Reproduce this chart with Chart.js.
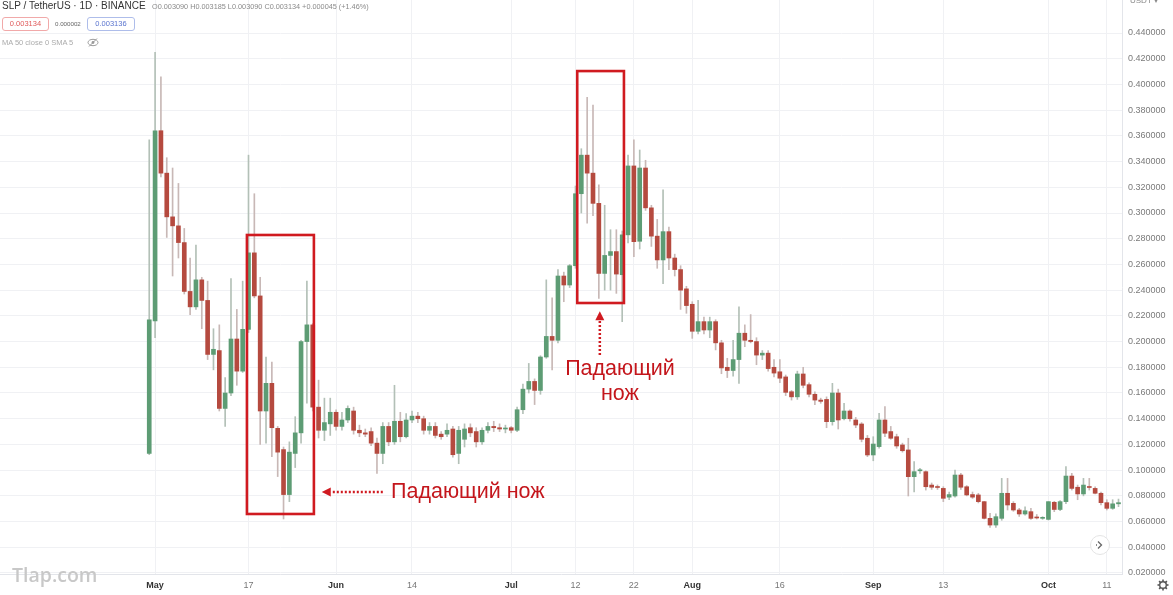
<!DOCTYPE html>
<html>
<head>
<meta charset="utf-8">
<script src="https://cdn.jsdelivr.net/npm/chart.js@4.4.1/dist/chart.umd.min.js"></script>
<style>
  body { margin: 0; background: #fff; overflow: hidden; }
  #wrap { position: relative; width: 1173px; height: 595px; font-family: "Liberation Sans", Arial, sans-serif; }
  #chart { position: absolute; left: 0; top: 0; }
  .abs { position: absolute; white-space: nowrap; }
  .title { left: 2px; top: 0px; font-size: 10px; color: #333; }
  .ohlc { left: 152px; top: 1.5px; font-size: 7.3px; color: #8a8a8a; }
  .pill { top: 17px; height: 12px; line-height: 12px; font-size: 7.5px; border-radius: 3px; text-align: center; }
  .pill.red { left: 2px; width: 45px; border: 1px solid #f1a9a9; color: #e05a5a; }
  .pill.blue { left: 87px; width: 46px; border: 1px solid #aebdea; color: #5a74cf; }
  .diff { left: 55px; top: 19.5px; font-size: 6.2px; color: #666; }
  .ma { left: 2px; top: 38px; font-size: 7.5px; color: #ababab; }
  .usdt { left: 1130px; top: -4px; font-size: 8px; color: #888; }
  .mark { left: 12px; top: 561px; font-family: "Open Sans", sans-serif; font-weight: 600; font-size: 19.5px; color: #c8c8c8; }
  .knife { font-size: 21.5px; color: #c4161c; line-height: 25px; }
  .k1 { left: 391px; top: 479px; }
  .k2 { left: 560px; top: 356px; width: 120px; text-align: center; white-space: normal; }
</style>
</head>
<body>
<div id="wrap">
  <canvas id="chart" width="1173" height="595"></canvas>

  <div class="abs title">SLP / TetherUS · 1D · BINANCE</div>
  <div class="abs ohlc">O0.003090 H0.003185 L0.003090 C0.003134 +0.000045 (+1.46%)</div>
  <div class="abs pill red">0.003134</div>
  <div class="abs diff">0.000002</div>
  <div class="abs pill blue">0.003136</div>
  <div class="abs ma">MA 50 close 0 SMA 5</div>
  <svg class="abs" style="left:87px;top:38px" width="12" height="9" viewBox="0 0 12 9">
    <ellipse cx="6" cy="4.5" rx="5" ry="3.2" fill="none" stroke="#9a9a9a" stroke-width="1"/>
    <circle cx="6" cy="4.5" r="1.4" fill="#9a9a9a"/>
    <line x1="2" y1="8.5" x2="10" y2="0.5" stroke="#9a9a9a" stroke-width="1"/>
  </svg>
  <div class="abs usdt">USDT ▾</div>

  <div class="abs knife k1">Падающий нож</div>
  <div class="abs knife k2">Падающий нож</div>

  <div class="abs mark">Tlap.com</div>

  <svg class="abs" style="left:1089px;top:534px" width="22" height="22" viewBox="0 0 22 22">
    <circle cx="11" cy="11" r="9.5" fill="#fff" stroke="#e4e4e4"/>
    <polyline points="9,7.5 12.5,11 9,14.5" fill="none" stroke="#666" stroke-width="1.3"/>
    <line x1="7" y1="11" x2="8" y2="11" stroke="#666" stroke-width="1.3"/>
  </svg>
  <svg class="abs" style="left:1157px;top:579px" width="12" height="12" viewBox="0 0 12 12">
    <circle cx="6" cy="6" r="3.3" fill="none" stroke="#555" stroke-width="1.4"/>
    <g stroke="#555" stroke-width="1.6">
      <line x1="6" y1="0.5" x2="6" y2="2.4"/><line x1="6" y1="9.6" x2="6" y2="11.5"/>
      <line x1="0.5" y1="6" x2="2.4" y2="6"/><line x1="9.6" y1="6" x2="11.5" y2="6"/>
      <line x1="2.1" y1="2.1" x2="3.4" y2="3.4"/><line x1="8.6" y1="8.6" x2="9.9" y2="9.9"/>
      <line x1="2.1" y1="9.9" x2="3.4" y2="8.6"/><line x1="8.6" y1="3.4" x2="9.9" y2="2.1"/>
    </g>
  </svg>
</div>

<script>
// SLP/USDT daily candles, 30 Apr 2021 .. 13 Oct 2021 (index 0 = 30 Apr)
const firstDay = Date.UTC(2021, 3, 30);

const opens = [
  .113,.216,.364,.331,.297,.290,.277,.239,.227,.248,
  .232,.190,.193,.148,.160,.202,.177,.2095,.269,.2355,
  .146,.1675,.1325,.116,.081,.113,.129,.200,.213,.149,
  .131,.136,.145,.134,.139,.146,.131,.129,.130,.121,
  .113,.134,.122,.138,.126,.139,.142,.140,.131,.134,
  .128,.128,.132,.113,.124,.133,.130,.122,.131,.134,
  .133,.132,.133,.131,.147,.163,.169,.162,.188,.204,
  .201,.251,.244,.259,.315,.345,.331,.3075,.253,.267,
  .270,.252,.283,.3366,.278,.335,.304,.282,.2635,.2855,
  .265,.256,.241,.229,.208,.2155,.209,.2155,.199,.180,
  .1775,.186,.2065,.201,.200,.1895,.191,.180,.1765,.1725,
  .161,.157,.1748,.1665,.159,.1545,.155,.1377,.160,.140,
  .146,.139,.1359,.1248,.1118,.1183,.139,.130,.126,.1196,
  .1157,.0949,.0995,.0988,.0884,.0871,.0858,.079,.0799,.0962,
  .0871,.081,.0807,.0755,.0625,.0573,.0625,.082,.0742,.069,
  .0659,.0677,.063,.0625,.0617,.075,.0694,.0755,.0954,.0867,
  .0815,.0871,.0858,.082,.0747,.0703,.0738
];
const highs = [
  .357,.425,.406,.343,.335,.323,.288,.265,.275,.250,
  .247,.210,.213,.172,.249,.225,.247,.345,.315,.250,
  .188,.184,.134,.118,.122,.1416,.201,.247,.214,.170,
  .156,.156,.147,.145,.150,.149,.135,.132,.133,.125,
  .137,.137,.166,.145,.144,.146,.145,.142,.137,.137,
  .130,.136,.134,.134,.136,.136,.133,.133,.137,.138,
  .136,.135,.134,.149,.167,.183,.171,.189,.248,.234,
  .256,.254,.260,.321,.350,.390,.384,.322,.306,.287,
  .287,.286,.345,.357,.349,.341,.306,.295,.318,.289,
  .268,.259,.243,.231,.232,.219,.219,.217,.201,.187,
  .201,.227,.213,.221,.203,.193,.193,.186,.186,.174,
  .162,.177,.180,.168,.161,.156,.157,.1675,.163,.152,
  .147,.141,.137,.127,.126,.1442,.1494,.134,.128,.121,
  .1248,.1066,.1015,.0995,.090,.0885,.0871,.083,.1001,.0975,
  .088,.083,.082,.0757,.0665,.066,.0936,.0936,.0755,.0703,
  .0714,.0703,.0655,.0638,.0755,.0757,.0764,.1027,.0975,.0884,
  .0936,.0936,.0871,.083,.077,.077,.0775
];
const lows = [
  .112,.203,.328,.281,.251,.265,.237,.221,.225,.210,
  .186,.178,.146,.134,.158,.166,.176,.207,.234,.120,
  .121,.1105,.095,.062,.0755,.102,.121,.152,.146,.125,
  .123,.127,.131,.131,.137,.128,.126,.126,.119,.0975,
  .105,.119,.120,.122,.125,.137,.137,.128,.128,.125,
  .124,.126,.110,.105,.118,.126,.118,.120,.129,.130,
  .130,.129,.129,.130,.144,.160,.151,.159,.187,.178,
  .199,.231,.242,.257,.300,.292,.298,.2335,.240,.240,
  .2375,.2155,.2767,.266,.272,.302,.274,.257,.245,.256,
  .251,.225,.222,.2025,.206,.206,.203,.1935,.175,.172,
  .173,.1675,.196,.199,.182,.186,.177,.1725,.168,.158,
  .1545,.155,.164,.157,.151,.152,.133,.135,.132,.139,
  .138,.133,.122,.1105,.1073,.117,.126,.124,.117,.114,
  .0799,.083,.0975,.0845,.085,.085,.0755,.077,.079,.085,
  .080,.078,.0745,.062,.0555,.0555,.061,.069,.068,.064,
  .065,.0617,.062,.0617,.0612,.0677,.0684,.074,.0845,.077,
  .080,.0845,.0815,.073,.069,.0695,.0716
];
const closes = [
  .217,.364,.331,.297,.290,.277,.239,.227,.248,.232,
  .190,.194,.148,.160,.202,.177,.2095,.269,.2355,.146,
  .1675,.133,.114,.081,.114,.129,.200,.213,.149,.131,
  .137,.145,.134,.139,.148,.131,.129,.128,.121,.113,
  .134,.122,.138,.126,.139,.142,.140,.131,.134,.127,
  .126,.131,.112,.131,.132,.129,.122,.131,.134,.133,
  .132,.1325,.131,.147,.163,.169,.162,.188,.204,.201,
  .251,.244,.259,.315,.345,.331,.3075,.253,.267,.270,
  .2525,.283,.3366,.2777,.335,.304,.282,.2635,.2855,.265,
  .256,.240,.228,.208,.2155,.209,.2155,.199,.1795,.1775,
  .186,.2065,.201,.200,.1895,.191,.179,.1755,.1715,.1605,
  .157,.1748,.166,.159,.1545,.1535,.1377,.160,.139,.146,
  .140,.1351,.124,.1118,.1203,.139,.1287,.1248,.1188,.1151,
  .0949,.0988,.0999,.0871,.0867,.0865,.0781,.081,.0962,.0867,
  .0807,.079,.0755,.0625,.0573,.0638,.082,.0729,.069,.0659,
  .0684,.0625,.0628,.0627,.0755,.0694,.0755,.0954,.0858,.0815,
  .0884,.0865,.082,.0747,.0703,.0738,.0747
];

// x-axis ticks (day index) and their labels
const xTickDays = [1, 17, 32, 45, 62, 73, 83, 93, 108, 124, 136, 154, 164];
const xTickLabels = ['May', '17', 'Jun', '14', 'Jul', '12', '22', 'Aug', '16', 'Sep', '13', 'Oct', '11'];
const monthLabels = ['May', 'Jun', 'Jul', 'Aug', 'Sep', 'Oct'];

// price axis ticks
const yTickValues = [0.02, 0.04, 0.06, 0.08, 0.10, 0.12, 0.14, 0.16, 0.18, 0.20, 0.22,
                     0.24, 0.26, 0.28, 0.30, 0.32, 0.34, 0.36, 0.38, 0.40, 0.42, 0.44];

const UP = '#5d9c74';
const DOWN = '#b54a3f';
const UP_WICK = '#b3c0b7';
const DOWN_WICK = '#c8b8b6';
const KNIFE_RED = '#d01a20';

// highlighted "falling knife" zones, in data units
const knifeBoxes = [
  { from: 16.73, to: 28.2, low: 0.0659, high: 0.2829 },
  { from: 73.3, to: 81.3, low: 0.2300, high: 0.4104 }
];

const isUp = i => closes[i] >= opens[i];
const dayLabel = i => new Date(firstDay + i * 86400000).toISOString().slice(0, 10);

// dotted arrows pointing at the zones
function dottedArrow(ctx, x1, y1, x2, y2) {
  const ang = Math.atan2(y2 - y1, x2 - x1);
  const head = 9;
  ctx.save();
  ctx.strokeStyle = KNIFE_RED;
  ctx.fillStyle = KNIFE_RED;
  ctx.lineWidth = 2.5;
  ctx.setLineDash([2, 2]);
  ctx.beginPath();
  ctx.moveTo(x1, y1);
  ctx.lineTo(x2 - Math.cos(ang) * head, y2 - Math.sin(ang) * head);
  ctx.stroke();
  ctx.setLineDash([]);
  ctx.beginPath();
  ctx.moveTo(x2, y2);
  ctx.lineTo(x2 - Math.cos(ang) * head + Math.sin(ang) * 4.5, y2 - Math.sin(ang) * head - Math.cos(ang) * 4.5);
  ctx.lineTo(x2 - Math.cos(ang) * head - Math.sin(ang) * 4.5, y2 - Math.sin(ang) * head + Math.cos(ang) * 4.5);
  ctx.closePath();
  ctx.fill();
  ctx.restore();
}

const knifePlugin = {
  id: 'knives',
  afterDatasetsDraw(chart) {
    const { ctx, scales: { x, y } } = chart;
    ctx.save();
    ctx.strokeStyle = KNIFE_RED;
    ctx.lineWidth = 2.6;
    knifeBoxes.forEach(b => {
      const l = x.getPixelForValue(b.from), r = x.getPixelForValue(b.to);
      const t = y.getPixelForValue(b.high), btm = y.getPixelForValue(b.low);
      ctx.strokeRect(l, t, r - l, btm - t);
    });
    ctx.restore();
    dottedArrow(ctx, x.getPixelForValue(40.0), y.getPixelForValue(0.0830),
                     x.getPixelForValue(29.55), y.getPixelForValue(0.0830));
    dottedArrow(ctx, x.getPixelForValue(77.17), y.getPixelForValue(0.1896),
                     x.getPixelForValue(77.17), y.getPixelForValue(0.2235));
  }
};

const tickFont = { family: '"Liberation Sans", Arial, sans-serif', size: 9 };

new Chart(document.getElementById('chart'), {
  type: 'bar',
  data: {
    datasets: [
      {
        label: 'wick',
        data: lows.map((l, i) => ({ x: i, y: [l, highs[i]] })),
        backgroundColor: lows.map((_, i) => isUp(i) ? UP_WICK : DOWN_WICK),
        barThickness: 1,
        grouped: false,
        order: 2
      },
      {
        label: 'SLP/USDT',
        data: opens.map((o, i) => ({ x: i, y: [o, closes[i]] })),
        backgroundColor: opens.map((_, i) => isUp(i) ? UP : DOWN),
        barThickness: 4,
        minBarLength: 1,
        grouped: false,
        order: 1
      }
    ]
  },
  options: {
    responsive: false,
    animation: false,
    devicePixelRatio: 1,
    layout: { padding: 0 },
    plugins: {
      legend: { display: false },
      tooltip: {
        callbacks: {
          title: items => dayLabel(items[0].raw.x),
          label: item => {
            const i = item.raw.x;
            return `O ${opens[i]}  H ${highs[i]}  L ${lows[i]}  C ${closes[i]}`;
          }
        },
        filter: item => item.datasetIndex === 1
      }
    },
    scales: {
      x: {
        type: 'linear',
        min: -25.56,
        max: 166.6,
        offset: false,
        grid: { color: '#f0f1f4', offset: false, drawTicks: false },
        border: { color: '#e3e5ea' },
        afterBuildTicks: s => { s.ticks = xTickDays.map(v => ({ value: v })); },
        afterFit: s => { s.height = 21; s.paddingLeft = 0; s.paddingRight = 0; },
        ticks: {
          autoSkip: false,
          maxRotation: 0,
          padding: 6,
          callback: (v, idx) => xTickLabels[idx],
          color: c => monthLabels.includes(xTickLabels[c.index]) ? '#333' : '#777',
          font: c => ({ ...tickFont, weight: monthLabels.includes(xTickLabels[c.index]) ? 'bold' : 'normal' })
        }
      },
      y: {
        type: 'linear',
        position: 'right',
        min: 0.01922,
        max: 0.46567,
        beginAtZero: false,
        grid: { color: '#f0f1f4', drawTicks: false },
        border: { color: '#e3e5ea' },
        afterBuildTicks: s => { s.ticks = yTickValues.map(v => ({ value: v })); },
        afterFit: s => { s.width = 51; s.paddingTop = 0; s.paddingBottom = 0; },
        ticks: {
          padding: 6,
          color: '#7a7a7a',
          font: tickFont,
          callback: v => v.toFixed(6)
        }
      }
    }
  },
  plugins: [knifePlugin]
});
</script>
</body>
</html>
